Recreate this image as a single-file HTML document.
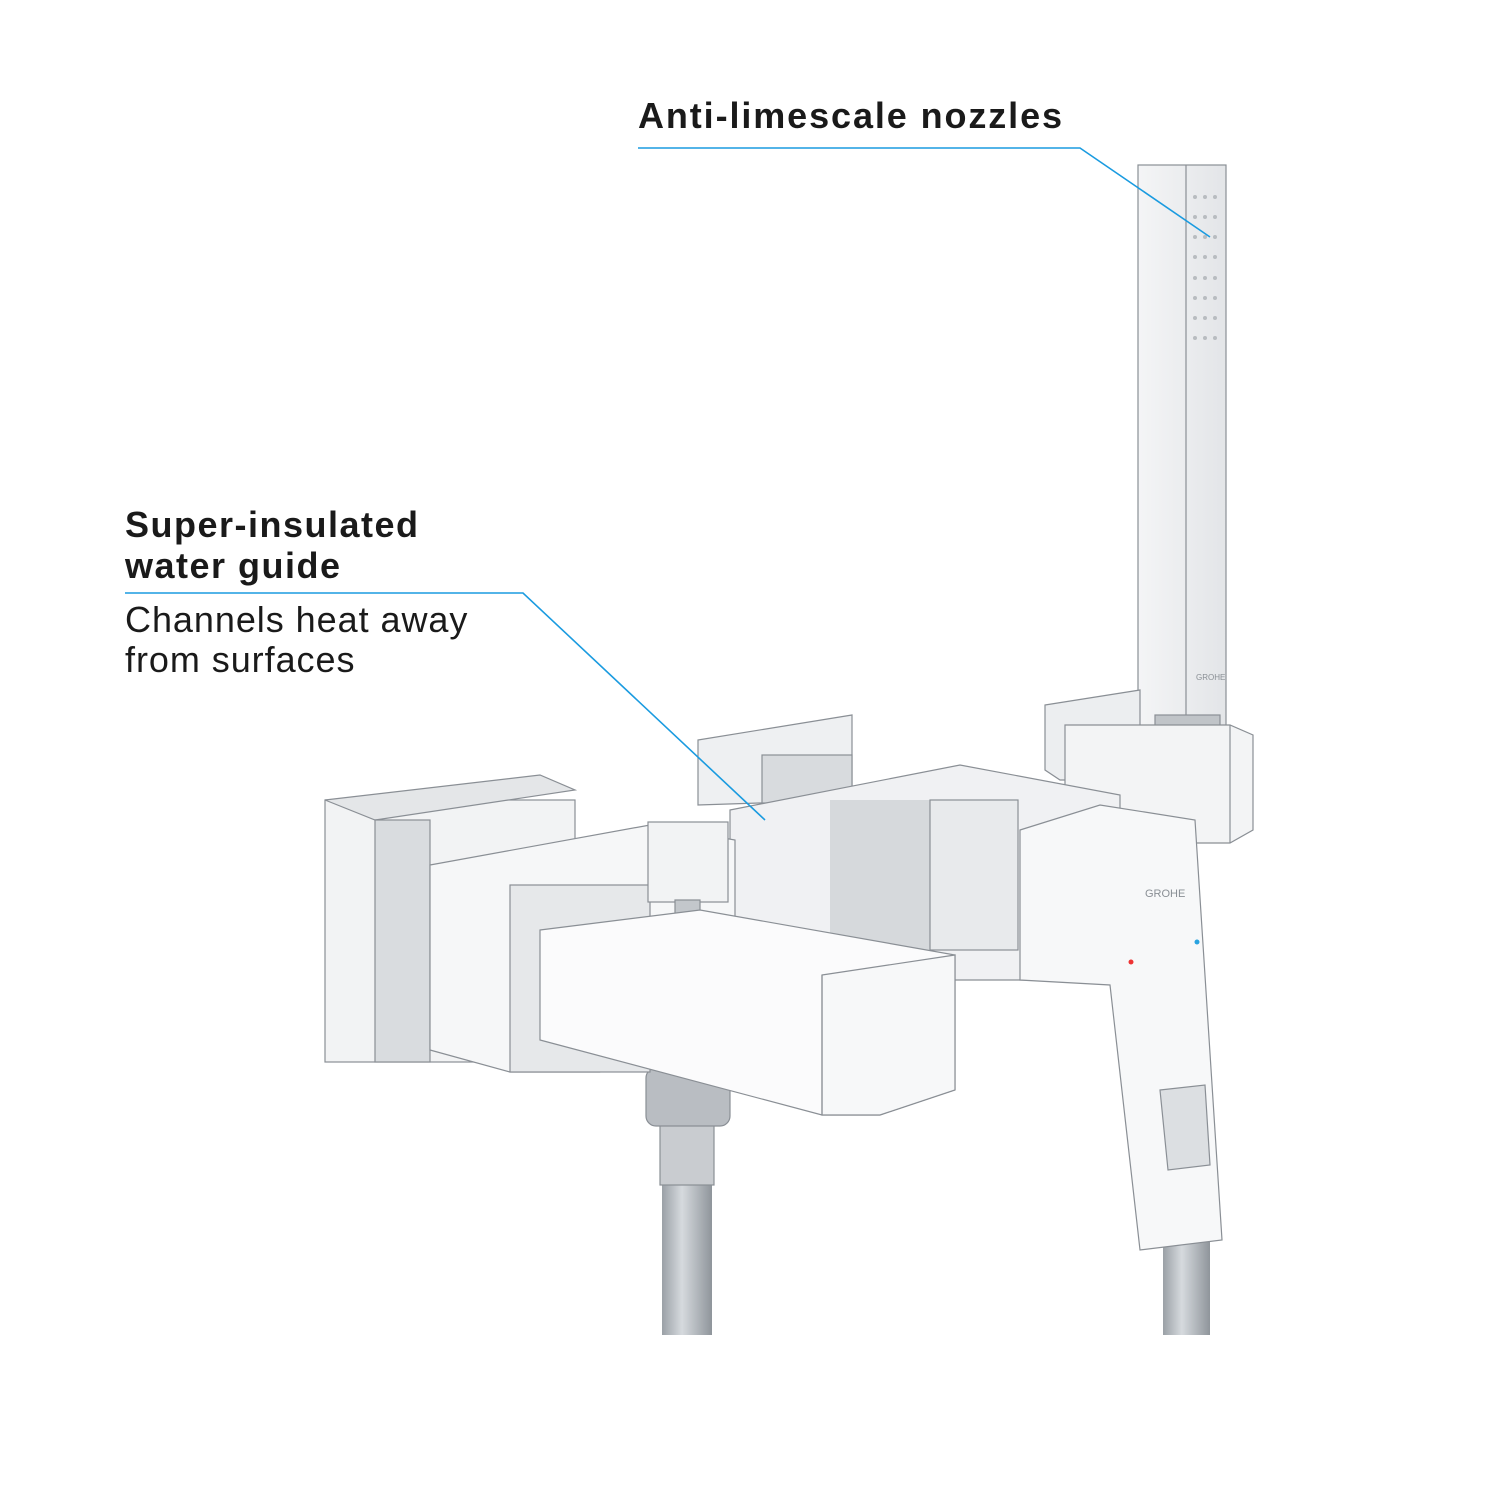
<!DOCTYPE html>
<html><head><meta charset="utf-8"><style>
html,body{margin:0;padding:0;background:#fff;}
.w{position:relative;width:1500px;height:1500px;overflow:hidden;font-family:"Liberation Sans",sans-serif;}
.t{position:absolute;color:#1a1a1a;font-size:36px;white-space:nowrap;letter-spacing:0.5px}
.b{font-weight:bold}
svg{position:absolute;left:0;top:0}
</style></head><body><div class="w">
<svg width="1500" height="1500" viewBox="0 0 1500 1500">
<defs>
<linearGradient id="hose" x1="0" x2="1"><stop offset="0" stop-color="#9aa0a6"/><stop offset=".4" stop-color="#d6dade"/><stop offset="1" stop-color="#8f959b"/></linearGradient>
<linearGradient id="v" x1="0" x2="1"><stop offset="0" stop-color="#f4f5f6"/><stop offset="1" stop-color="#e3e5e8"/></linearGradient>
</defs>
<g stroke="#8a8f95" stroke-width="1.2">
<rect x="662" y="1130" width="50" height="205" fill="url(#hose)" stroke="none"/>
<rect x="1163" y="1220" width="47" height="115" fill="url(#hose)" stroke="none"/>
<rect x="660" y="1110" width="54" height="75" fill="#c9ccd0"/>
<rect x="646" y="1068" width="84" height="58" rx="10" fill="#b9bdc2"/>
<rect x="1138" y="165" width="88" height="565" fill="url(#v)"/>
<line x1="1186" y1="165" x2="1186" y2="730"/>
<rect x="1155" y="715" width="65" height="20" fill="#c0c4c8"/>
<polygon points="1045,705 1140,690 1140,780 1060,780 1045,770" fill="#eceef0"/>
<polygon points="1065,725 1230,725 1253,735 1253,830 1230,843 1065,843" fill="#f3f4f5"/>
<line x1="1230" y1="725" x2="1230" y2="843"/>
<polygon points="698,740 852,715 852,800 698,805" fill="#eef0f2"/>
<rect x="762" y="755" width="90" height="48" fill="#d8dbde"/>
<polygon points="730,810 960,765 1120,795 1120,980 930,980 730,950" fill="#f0f1f3"/>
<rect x="830" y="800" width="100" height="160" fill="#d6d9dc" stroke="none"/>
<rect x="930" y="800" width="88" height="150" fill="#e8eaec"/>
<rect x="325" y="800" width="250" height="262" fill="#f2f3f4"/>
<polygon points="325,800 540,775 575,790 375,820" fill="#e4e6e8"/>
<rect x="375" y="820" width="55" height="242" fill="#d9dcdf"/>
<polygon points="430,865 650,825 735,840 735,1000 600,1072 510,1072 430,1050" fill="#f6f7f8"/>
<rect x="510" y="885" width="140" height="187" fill="#e6e8ea"/>
<rect x="648" y="822" width="80" height="80" fill="#f2f3f4"/>
<rect x="675" y="900" width="25" height="70" fill="#c3c7cb"/>
<polygon points="540,930 700,910 955,955 955,1090 880,1115 822,1115 540,1040" fill="#fbfbfc"/>
<polygon points="822,975 955,955 955,1090 880,1115 822,1115" fill="#f7f8f9"/>
<line x1="822" y1="975" x2="822" y2="1115"/>
<polygon points="1020,830 1100,805 1195,820 1222,1240 1140,1250 1110,985 1020,980" fill="#f7f8f9"/>
<polygon points="1160,1090 1205,1085 1210,1165 1168,1170" fill="#dcdfe2"/>
</g>
<circle cx="1131" cy="962" r="2.5" fill="#e33"/>
<circle cx="1197" cy="942" r="2.5" fill="#29a3e0"/>
<text x="1145" y="897" font-family="Liberation Sans" font-size="11" fill="#8a8f95">GROHE</text>
<text x="1196" y="680" font-family="Liberation Sans" font-size="8" fill="#8a8f95">GROHE</text>
<g fill="#b8bcc0">
<circle cx="1195" cy="197" r="2"/><circle cx="1205" cy="197" r="2"/><circle cx="1215" cy="197" r="2"/>
<circle cx="1195" cy="217" r="2"/><circle cx="1205" cy="217" r="2"/><circle cx="1215" cy="217" r="2"/>
<circle cx="1195" cy="237" r="2"/><circle cx="1205" cy="237" r="2"/><circle cx="1215" cy="237" r="2"/>
<circle cx="1195" cy="257" r="2"/><circle cx="1205" cy="257" r="2"/><circle cx="1215" cy="257" r="2"/>
<circle cx="1195" cy="278" r="2"/><circle cx="1205" cy="278" r="2"/><circle cx="1215" cy="278" r="2"/>
<circle cx="1195" cy="298" r="2"/><circle cx="1205" cy="298" r="2"/><circle cx="1215" cy="298" r="2"/>
<circle cx="1195" cy="318" r="2"/><circle cx="1205" cy="318" r="2"/><circle cx="1215" cy="318" r="2"/>
<circle cx="1195" cy="338" r="2"/><circle cx="1205" cy="338" r="2"/><circle cx="1215" cy="338" r="2"/>
</g>
<polyline points="638,148 1080,148 1210,237" fill="none" stroke="#1a9be0" stroke-width="1.6"/>
<polyline points="125,593 523,593 765,820" fill="none" stroke="#1a9be0" stroke-width="1.6"/>
</svg>
<div class="t b" style="left:638px;top:95px;letter-spacing:1.9px">Anti-limescale nozzles</div>
<div class="t b" style="left:125px;top:504px;line-height:41px;letter-spacing:1.5px">Super-insulated<br>water guide</div>
<div class="t" style="left:125px;top:600px;line-height:40px;font-weight:300;letter-spacing:0.95px">Channels heat away<br>from surfaces</div>
</div></body></html>
